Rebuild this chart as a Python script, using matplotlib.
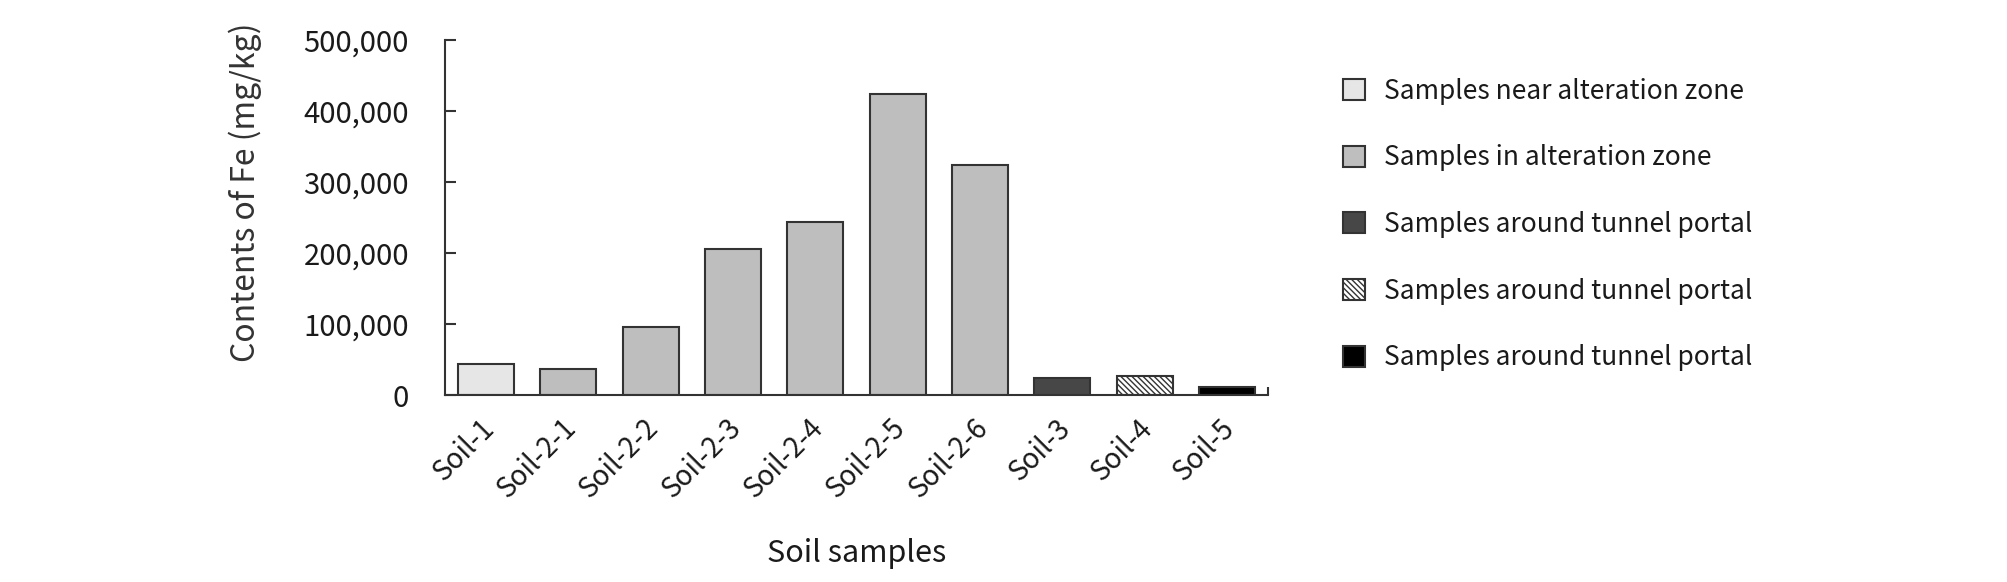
import matplotlib.pyplot as plt
import matplotlib.transforms as mtransforms
from matplotlib.ticker import FuncFormatter

plt.rcParams['font.family'] = ['Noto Sans CJK KR', 'DejaVu Sans']

#++++++++++++++++++++++++++++++++++++++++++++++
# data
#++++++++++++++++++++++++++++++++++++++++++++++
samples = ['Soil-1', 'Soil-2-1', 'Soil-2-2', 'Soil-2-3', 'Soil-2-4',
           'Soil-2-5', 'Soil-2-6', 'Soil-3', 'Soil-4', 'Soil-5']
fe_content = [43000, 37000, 96000, 206000, 243000,
              424000, 324000, 23500, 26800, 11700]
groups = [0, 1, 1, 1, 1, 1, 1, 2, 3, 4]
group_labels = ['Samples near alteration zone',
                'Samples in alteration zone',
                'Samples around tunnel portal',
                'Samples around tunnel portal',
                'Samples around tunnel portal']
y_ticks = [0, 100000, 200000, 300000, 400000, 500000]

# style per group
face = ['#e6e6e6', '#bebebe', '#474747', 'white', 'black']
hatch = [None, None, None, '\\\\\\\\\\\\', None]
edge = '#333333'
txt = '#1a1a1a'

fig = plt.figure(figsize=(20.08, 5.82), dpi=100)
ax = fig.add_axes([0.2216, 0.3213, 0.4099, 0.61])

handles = []
for g in range(len(group_labels)):
    idx = [i for i in range(len(samples)) if groups[i] == g]
    b = ax.bar(idx, [fe_content[i] for i in idx], width=0.68,
               color=face[g], edgecolor=edge, linewidth=1.5,
               hatch=hatch[g], label=group_labels[g], zorder=2)
    handles.append(b)

ax.set_xlim(-0.5, len(samples) - 0.5)
ax.set_ylim(0, 500000)
ax.set_yticks(y_ticks)
ax.yaxis.set_major_formatter(FuncFormatter(lambda v, p: f'{int(v):,}'))
ax.set_xticks(range(len(samples)))
ax.set_xticklabels(samples, rotation=45, ha='right', rotation_mode='anchor')
ax.set_xticks([len(samples) - 0.5], minor=True)

for s in ['top', 'right']:
    ax.spines[s].set_visible(False)
for s in ['left', 'bottom']:
    ax.spines[s].set_color(edge)
    ax.spines[s].set_linewidth(1.5)

ax.tick_params(axis='y', direction='in', length=8, width=1.5, color=edge,
               labelsize=21, pad=26, labelcolor=txt)
ax.tick_params(axis='x', which='both', direction='in', length=6, width=1.5,
               color=edge, labelsize=20, pad=13, labelcolor=txt)

# nudge rotated sample labels a little to the left
shift = mtransforms.ScaledTranslation(-5 / 72, 0, fig.dpi_scale_trans)
for lab in ax.get_xticklabels():
    lab.set_transform(lab.get_transform() + shift)

ax.set_ylabel('Contents of Fe (mg/kg)', fontsize=23, color='#333333')
ax.yaxis.set_label_coords(-0.222, 0.572)
ax.set_xlabel('Soil samples', fontsize=22, color=txt, labelpad=24)

fig.legend(handles=handles, loc='upper left', bbox_to_anchor=(0.657, 0.907),
           frameon=False, fontsize=19, handlelength=0.85, handleheight=0.85,
           labelspacing=1.5, handletextpad=0.7, labelcolor=txt)

fig.savefig('out.png', dpi=100)
